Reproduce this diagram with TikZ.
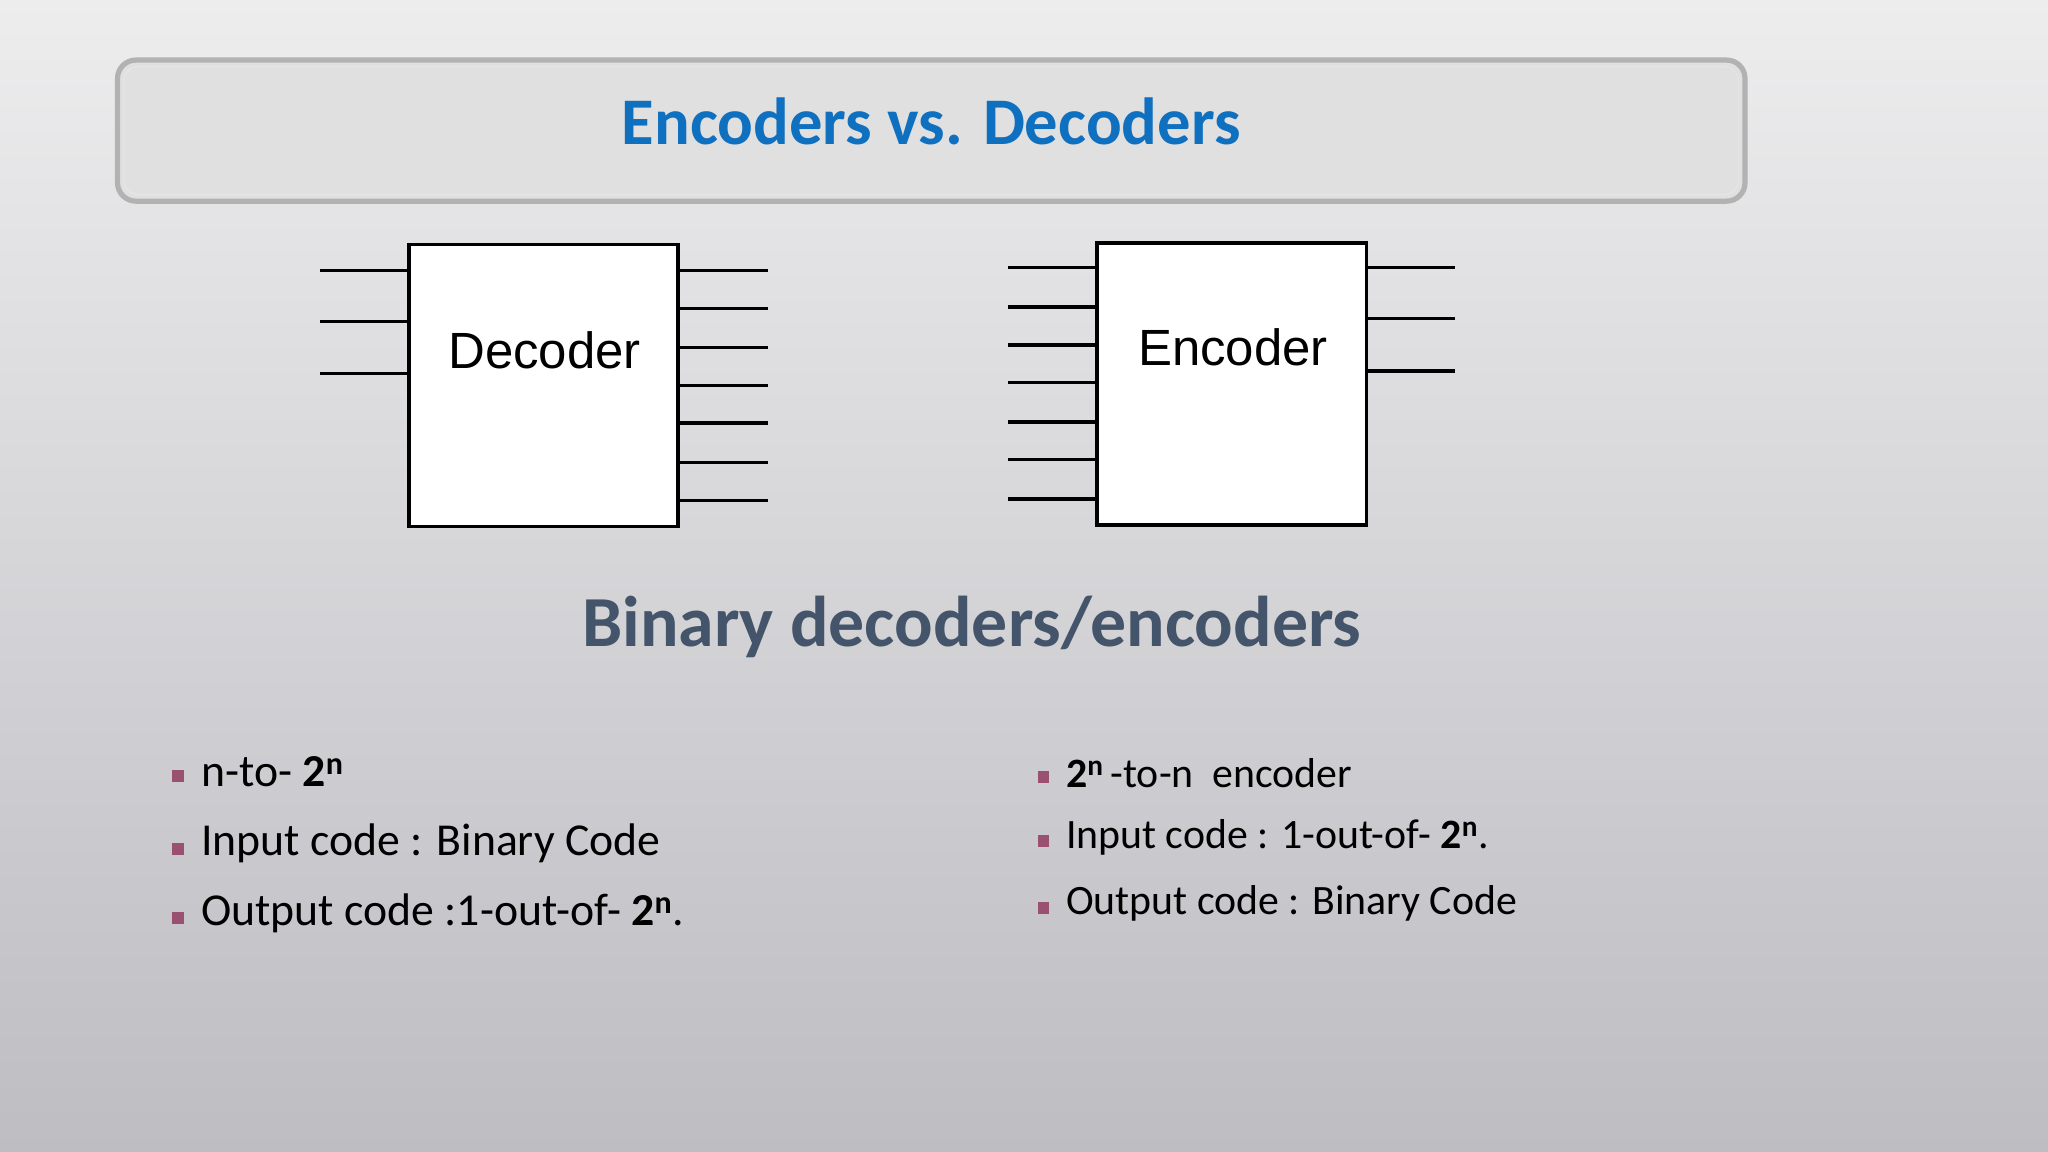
\documentclass[tikz,border=0pt]{standalone}
\usepackage{fontspec}
\setmainfont{Carlito}
\newfontfamily\arialf{Liberation Sans}
\definecolor{titleblue}{HTML}{1070C0}
\definecolor{slate}{HTML}{44546A}
\definecolor{bul}{HTML}{9A5070}
\definecolor{bgtop}{HTML}{EDEDEE}
\definecolor{bgbot}{HTML}{BDBDC2}
\tikzset{
  blk/.style={draw=black,line width=2.6pt,fill=white},
  wire/.style={line width=2.6pt},
  btxt/.style={anchor=west,inner sep=0pt},
  bsq/.style={fill=bul,minimum size=9pt,inner sep=0pt},
}
\newcommand{\twon}{\textbf{2}\textsuperscript{\textbf{n}}}
\begin{document}
\begin{tikzpicture}[x=1pt,y=-1pt]
\useasboundingbox (0,0) rectangle (1568,882);
\shade[top color=bgtop,bottom color=bgbot] (0,0) rectangle (1568,882);
% title bar
\draw[line width=4pt,draw=gray!60,fill=black!12!white,rounded corners=14pt] (90,46) rectangle (1336,154);
\draw[line width=1pt,draw=white!80!gray,rounded corners=11pt] (95,51) rectangle (1331,149);
\node (title) at (713,93) {\fontsize{51}{53}\selectfont\bfseries\color{titleblue}Encoders vs. Decoders};
% decoder
\node[blk,minimum width=206pt,minimum height=216pt,inner sep=0pt] (dec) at (416,295) {};
\node[anchor=center] (dect) at (417,268) {\arialf\fontsize{39}{41}\selectfont Decoder};
\foreach \y [count=\i] in {207,246,286}{
  \coordinate (di\i) at (245,\y);
  \draw[wire] (di\i) -- (dec.west |- di\i);}
\foreach \y [count=\i] in {207,236,266,295,324,354,383}{
  \coordinate (do\i) at (588,\y);
  \draw[wire] (dec.east |- do\i) -- (do\i);}
% encoder
\node[blk,minimum width=206pt,minimum height=216pt,inner sep=0pt] (enc) at (943,294) {};
\node[anchor=center] (enct) at (944,266) {\arialf\fontsize{39}{41}\selectfont Encoder};
\foreach \y [count=\i] in {205,235,264,293,323,352,382}{
  \coordinate (ei\i) at (772,\y);
  \draw[wire] (ei\i) -- (enc.west |- ei\i);}
\foreach \y [count=\i] in {205,244,284}{
  \coordinate (eo\i) at (1114,\y);
  \draw[wire] (enc.east |- eo\i) -- (eo\i);}
% subtitle
\node (sub) at (744,480) {\fontsize{55}{57}\selectfont\bfseries\color{slate}Binary decoders/encoders};
% left bullets
\node[bsq] (lb1) at (136,594) {};
\node[bsq] (lb2) at (136,650) {};
\node[bsq] (lb3) at (136,703) {};
\node[btxt] (lt1) at (154,591) {\fontsize{35}{37}\selectfont n-to- \twon};
\node[btxt] (lt2) at (154,646) {\fontsize{35}{37}\selectfont Input code : Binary Code};
\node[btxt] (lt3) at (154,699) {\fontsize{35}{37}\selectfont Output code :1-out-of- \twon.};
% right bullets
\node[bsq] (rb1) at (799,595) {};
\node[bsq] (rb2) at (799,644) {};
\node[bsq] (rb3) at (799,695) {};
\node[btxt] (rt1) at (816,592) {\fontsize{32}{34}\selectfont \twon\,-to-n\ \ encoder};
\node[btxt] (rt2) at (816,641) {\fontsize{32}{34}\selectfont Input code : 1-out-of- \twon.};
\node[btxt] (rt3) at (816,692) {\fontsize{32}{34}\selectfont Output code : Binary Code};
\end{tikzpicture}
\end{document}
